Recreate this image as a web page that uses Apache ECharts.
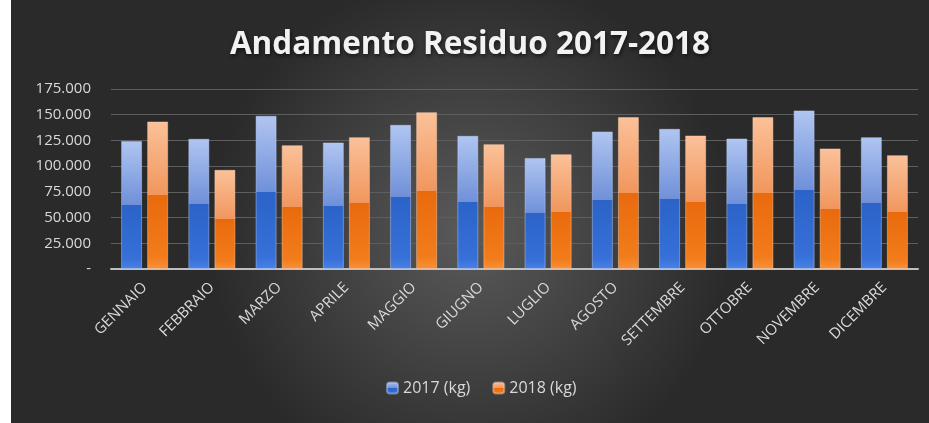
<!DOCTYPE html>
<html>
<head>
<meta charset="utf-8">
<script src="https://cdn.jsdelivr.net/npm/echarts@6/dist/echarts.min.js"></script>
<style>
html,body{margin:0;padding:0;background:#fff;width:929px;height:423px;overflow:hidden;}
#c{position:absolute;left:11px;top:0;width:918px;height:423px;}
</style>
</head>
<body>
<div id="c"></div>
<script>
const titleText = 'Andamento Residuo 2017-2018';
const months = ['GENNAIO','FEBBRAIO','MARZO','APRILE','MAGGIO','GIUGNO','LUGLIO','AGOSTO','SETTEMBRE','OTTOBRE','NOVEMBRE','DICEMBRE'];
const seriesNames = ['2017 (kg)', '2018 (kg)'];
const values2017 = [124500, 126600, 149000, 123000, 140200, 129500, 108000, 133700, 136300, 126900, 154200, 128200];
const values2018 = [143400, 96400, 120400, 128200, 152500, 121400, 111600, 147700, 129800, 147700, 117200, 110700];
const yTicks = [0, 25000, 50000, 75000, 100000, 125000, 150000, 175000];

function fmt(v){
  if (v === 0) return '-';
  return String(v).replace(/\B(?=(\d{3})+(?!\d))/g, '.');
}
function grad(stops){
  return new echarts.graphic.LinearGradient(0,0,0,1, stops.map(s=>({offset:s[0], color:s[1]})));
}
const blueGrad = grad([[0,'#b0c5f1'],[0.5,'#6f90d9'],[0.5,'#2b63c7'],[0.92,'#3670d8'],[1,'#4a82e6']]);
const orangeGrad = grad([[0,'#fbc199'],[0.5,'#f1965d'],[0.5,'#e96a0d'],[0.92,'#f27c1b'],[1,'#f8913a']]);

const chart = echarts.init(document.getElementById('c'), null, {renderer:'canvas'});
chart.setOption({
  animation:false,
  backgroundColor: new echarts.graphic.RadialGradient(0.5,0.55,0.62,[
    {offset:0,color:'#5a5a5a'},{offset:1,color:'#2a2a2a'}
  ]),
  title:{
    text:titleText, left:'center', top:24,
    textStyle:{color:'#f2f2f2', fontFamily:'Open Sans', fontWeight:'bold', fontSize:31.5,
      textShadowColor:'rgba(0,0,0,0.6)', textShadowBlur:4, textShadowOffsetX:1, textShadowOffsetY:2}
  },
  legend:{
    bottom:22, left:370, itemWidth:11, itemHeight:11, itemGap:22,
    textStyle:{color:'#d9d9d9', fontFamily:'Open Sans', fontSize:16},
    data:seriesNames
  },
  grid:{left:100, right:11, top:89, bottom:154},
  xAxis:{
    type:'category', data:months,
    axisLine:{lineStyle:{color:'#bfbfbf', width:2}},
    axisTick:{show:false},
    axisLabel:{rotate:45, color:'#d9d9d9', fontFamily:'Open Sans', fontSize:15, margin:16, interval:0}
  },
  yAxis:{
    type:'value', min:0, max:175000, interval:25000,
    axisLine:{show:false}, axisTick:{show:false},
    splitLine:{lineStyle:{color:'#5e5e5e', width:1}},
    axisLabel:{color:'#d9d9d9', fontFamily:'Open Sans', fontSize:15, margin:20, formatter:fmt}
  },
  series:[
    {name:seriesNames[0], type:'bar', data:values2017, barCategoryGap:'30%', barGap:'24%',
     itemStyle:{color:blueGrad, borderColor:'rgba(190,210,255,0.45)', borderWidth:1}},
    {name:seriesNames[1], type:'bar', data:values2018,
     itemStyle:{color:orangeGrad, borderColor:'rgba(255,210,180,0.45)', borderWidth:1}}
  ]
});
</script>
</body>
</html>
